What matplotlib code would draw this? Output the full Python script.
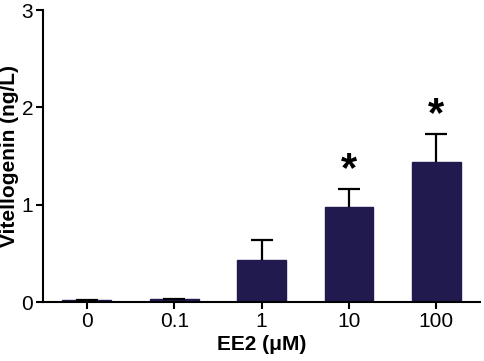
import matplotlib
matplotlib.use("Agg")
import matplotlib.pyplot as plt
import numpy as np

categories = ["0", "0.1", "1", "10", "100"]
values = [0.02, 0.03, 0.43, 0.98, 1.44]
errors = [0.005, 0.005, 0.21, 0.18, 0.29]
significant = [False, False, False, True, True]

plt.rcParams['font.family'] = ['Liberation Sans', 'DejaVu Sans']

fig = plt.figure(figsize=(4.84, 3.61), dpi=100)
ax = fig.add_axes([0.089, 0.163, 0.903, 0.809])

x = np.arange(len(categories))
ax.bar(x, values, width=0.56, color="#211a4e", edgecolor="#211a4e", zorder=2)
eb = ax.errorbar(x, values, yerr=[np.zeros(len(values)), errors], fmt="none",
                 ecolor="black", elinewidth=1.6, capsize=8, capthick=1.6, zorder=3)
caplines = eb.lines[1]
if len(caplines) > 1:
    caplines[0].set_visible(False)
for xi, v, e, s in zip(x, values, errors, significant):
    if s:
        ax.text(xi, v + e - 0.01, "*", ha="center", va="bottom",
                fontsize=30, fontweight="bold")

ax.set_xlim(-0.5, 4.5)
ax.set_ylim(0, 3)
ax.set_yticks([0, 1, 2, 3])
ax.set_xticks(x)
ax.set_xticklabels(categories)
ax.tick_params(axis="both", labelsize=15, width=1.5, length=5, direction="out", pad=2)
ax.spines["top"].set_visible(False)
ax.spines["right"].set_visible(False)
ax.spines["left"].set_linewidth(1.5)
ax.spines["bottom"].set_linewidth(1.5)
ax.set_ylabel("Vitellogenin (ng/L)", fontsize=15, fontweight="bold", labelpad=2)
ax.set_xlabel("EE2 (μM)", fontsize=15, fontweight="bold", labelpad=3)

fig.savefig("out.png", dpi=100)
